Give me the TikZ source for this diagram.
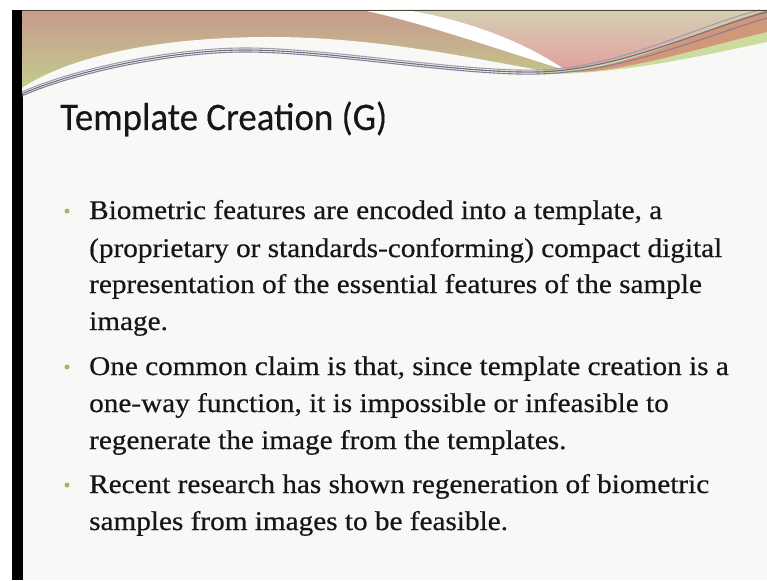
\documentclass[tikz,border=0pt]{standalone}
\usepackage{fontspec}
\setmainfont{Liberation Serif}
\newfontfamily\bodyfont{Liberation Serif}[FakeBold=0.5]
\newfontfamily\titlefont{Carlito}[FakeBold=0.3]
\newsavebox\measbox
\newdimen\measw
\newdimen\measwt
\definecolor{slidebg}{HTML}{F8F8F6}
\definecolor{textc}{HTML}{161616}
\definecolor{bulletc}{HTML}{A5B56A}
\definecolor{bandtop}{HTML}{C79A8E}
\definecolor{bandmid}{HTML}{C6B290}
\definecolor{bandgreen}{HTML}{C3D08C}
\definecolor{rtop}{HTML}{D4CFB2}
\definecolor{rbot}{HTML}{E2A0A0}
\definecolor{lineA}{HTML}{6E6E7E}
\definecolor{lineB}{HTML}{8E7A9C}
\definecolor{lineC}{HTML}{A0A0A8}
\definecolor{orangeband}{HTML}{D09878}
\definecolor{greenband}{HTML}{CCDCA0}
\definecolor{topline}{HTML}{4A4A35}
\begin{document}
\sbox\measbox{\bodyfont\fontsize{27}{30}\selectfont (proprietary or standards-conforming) compact digital}%
\global\measw=\wd\measbox
\sbox\measbox{\titlefont\fontsize{39}{42}\selectfont Template Creation (G)}%
\global\measwt=\wd\measbox
\begin{tikzpicture}[x=1pt,y=-1pt,
  bodytext/.style={anchor=base west, inner sep=0pt, text=textc, font=\bodyfont\fontsize{27}{30}\selectfont},
  titletext/.style={anchor=base west, inner sep=0pt, text=textc},
  bulletdot/.style={circle, fill=bulletc, inner sep=0pt, minimum size=5pt},
  strand/.style={line width=1.1pt}
  ]
\pgfmathsetmacro\bsx{633/\the\measw}
\pgfmathsetmacro\tsx{327/\the\measwt}
\useasboundingbox (0,0) rectangle (767,580);
% page and slide
\fill[white] (0,0) rectangle (767,580);
\fill[slidebg] (22,10) rectangle (767,580);
\fill[black] (12,10) rectangle (22.5,580);
% banner: left band
\shade[top color=bandtop, middle color=bandmid, bottom color=bandgreen]
  (22,94) .. controls (70,72) and (170,50) .. (245,50)
  .. controls (330,50) and (460,74) .. (538,72)
  .. controls (620,70) and (700,30) .. (767,10) -- (22,10) -- cycle;
% right pink region
\shade[top color=rtop, bottom color=rbot]
  (406,10) -- (767,10) .. controls (700,30) and (630,66) .. (565,71)
  .. controls (530,45) and (470,20) .. (406,10) -- cycle;
% white streak
\fill[white] (362,10) .. controls (420,22) and (500,50) .. (565,70)
  .. controls (530,45) and (470,20) .. (406,10) -- cycle;
% white hump
\fill[slidebg] (22,88) .. controls (80,50) and (180,37) .. (270,37)
  .. controls (380,37) and (480,60) .. (545,71)
  .. controls (460,74) and (330,50) .. (245,50)
  .. controls (170,50) and (70,72) .. (22,94) -- cycle;
% right lower bands
\fill[greenband] (538,72) .. controls (620,70) and (700,30) .. (767,10) -- (767,42)
  .. controls (700,56) and (620,75) .. (538,74) -- cycle;
\fill[orangeband] (560,72) .. controls (630,68) and (700,30) .. (767,10) -- (767,32)
  .. controls (700,48) and (630,70) .. (580,72) -- cycle;
% strands
\draw[strand, lineC] (22,92) .. controls (70,70) and (170,48) .. (245,48)
  .. controls (330,48) and (460,72) .. (538,70)
  .. controls (620,68) and (695,26) .. (760,10);
\draw[strand, lineB] (22,96) .. controls (70,74) and (170,52) .. (245,52)
  .. controls (330,52) and (460,76) .. (538,74)
  .. controls (625,72) and (705,36) .. (767,18);
\draw[strand, lineA] (22,94) .. controls (70,72) and (170,50) .. (245,50)
  .. controls (330,50) and (460,74) .. (538,72)
  .. controls (620,70) and (700,30) .. (767,12);
% top line
\draw[topline, line width=1.2pt] (22,10.5) -- (767,10.5);
% title
\node[titletext] (title) at (60,130) {\scalebox{\tsx}[1]{\titlefont\fontsize{39}{42}\selectfont Template Creation (G)}};
% bullets
\node[bulletdot] (b1) at (67,211) {};
\node[bulletdot] (b2) at (67,367) {};
\node[bulletdot] (b3) at (67,485) {};
% body
\node[bodytext] (l1) at (89,219) {\scalebox{\bsx}[1]{Biometric features are encoded into a template, a}};
\node[bodytext] (l2) at (89,257) {\scalebox{\bsx}[1]{(proprietary or standards-conforming) compact digital}};
\node[bodytext] (l3) at (89,293) {\scalebox{\bsx}[1]{representation of the essential features of the sample}};
\node[bodytext] (l4) at (89,330) {\scalebox{\bsx}[1]{image.}};
\node[bodytext] (l5) at (89,375) {\scalebox{\bsx}[1]{One common claim is that, since template creation is a}};
\node[bodytext] (l6) at (89,412) {\scalebox{\bsx}[1]{one-way function, it is impossible or infeasible to}};
\node[bodytext] (l7) at (89,449) {\scalebox{\bsx}[1]{regenerate the image from the templates.}};
\node[bodytext] (l8) at (89,493) {\scalebox{\bsx}[1]{Recent research has shown regeneration of biometric}};
\node[bodytext] (l9) at (89,530) {\scalebox{\bsx}[1]{samples from images to be feasible.}};
\end{tikzpicture}
\end{document}
